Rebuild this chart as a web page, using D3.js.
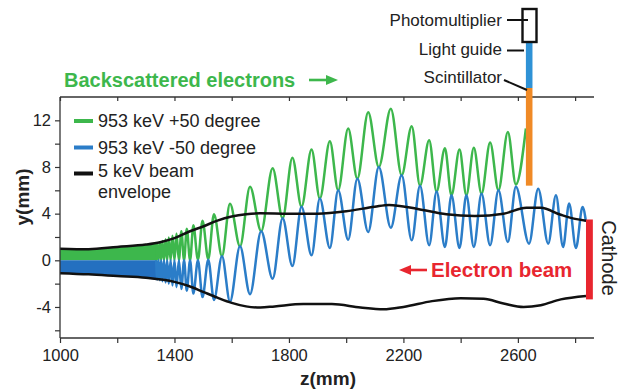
<!DOCTYPE html>
<html><head><meta charset="utf-8">
<script src="https://cdn.jsdelivr.net/npm/d3@7"></script>
<style>body{margin:0;background:#fff}svg{display:block}</style>
</head><body><svg id="c" width="622" height="391"></svg>
<script>
// ---------- data ----------
const xTicks = [1000,1200,1400,1600,1800,2000,2200,2400,2600,2800];
const xLabels = [1000,1400,1800,2200,2600];
const yTicks = [-6,-4,-2,0,2,4,6,8,10,12];
const yLabels = [-4,0,4,8,12];
const seriesNames = ["953 keV +50 degree","953 keV -50 degree","5 keV beam","envelope"];

// dense (unresolved) oscillation band at the start
const bandZ = [1000,1100,1200,1300,1340];
const greenBandTop = [1.0,0.95,1.15,1.35,1.45];
const greenBandBottom = [0,0,0,0,0];
const blueBandTop = [0,0,0,0,0];
const blueBandBottom = [-1.1,-1.2,-1.35,-1.5,-1.65];

// resolved oscillation extremes (peaks and troughs)
const greenZ = [1336,1340,1344.5,1349,1353.5,1358,1363.5,1369,1374.5,1380,1386.5,1393,1400,1407,1415.5,1424,1433.5,1443,1454.5,1466,1482,1498,1518,1538,1566,1594,1629,1664,1703,1743,1778,1812,1844,1879,1908,1943,1972,2007,2039,2077,2114,2156,2194,2229,2258,2290,2316,2345,2368,2396,2420,2446,2473,2503,2532,2565,2593,2628];
const greenY = [0,1.45,0,1.55,0,1.65,0,1.8,0,1.95,0,2.1,0,2.3,0,2.5,0,2.7,0,3.0,0.05,3.4,0.1,3.95,0.35,4.85,1.2,6.3,2.5,7.9,3.6,8.8,4.6,9.5,5.3,10.2,6.0,11.3,7.0,12.7,8.0,13.0,7.3,11.5,6.4,10.3,5.9,9.6,5.57,9.5,5.57,9.65,5.7,10.1,6.0,11.0,6.5,11.3];
const blueZ = [1336,1340,1344.5,1349,1353.5,1358,1363.5,1369,1374.5,1380,1386.5,1393,1400,1407,1415.5,1424,1433.5,1443,1454.5,1466,1482,1498,1518,1538,1566,1594,1629,1664,1703,1743,1778,1812,1844,1879,1908,1943,1972,2007,2039,2077,2114,2156,2194,2229,2258,2290,2316,2345,2368,2396,2420,2446,2473,2503,2532,2565,2593,2639,2671,2706,2733,2758,2779,2803,2826,2838];
const blueY = [0,-1.65,0,-1.7,0,-1.8,0,-1.9,0,-2.0,0,-2.15,0,-2.3,0,-2.45,0,-2.6,0,-2.85,0,-3.15,0.05,-3.4,0.35,-3.55,1.2,-2.9,2.5,-1.57,3.6,-0.49,4.6,0.43,5.3,1.06,6.0,1.77,7.0,2.43,8.0,2.8,7.3,1.71,6.4,1.29,5.9,1.14,5.57,1.06,5.57,1.14,5.7,1.29,6.0,1.57,6.3,1.43,6.14,1.43,5.57,1.14,4.86,1.06,4.57,3.3];

// 5 keV beam envelope
const envUpperZ = [1000,1100,1200,1300,1350,1400,1450,1500,1550,1600,1650,1700,1800,1900,2000,2100,2150,2250,2350,2450,2550,2630,2680,2750,2800,2838];
const envUpperY = [1.0,0.95,1.15,1.35,1.55,1.9,2.45,2.9,3.4,3.75,3.95,4.03,4.0,4.0,4.2,4.6,4.75,4.4,3.95,3.8,4.0,4.5,4.5,3.9,3.55,3.4];
const envLowerZ = [1000,1100,1200,1300,1400,1450,1500,1550,1600,1650,1700,1750,1850,1950,2050,2130,2200,2300,2400,2480,2550,2620,2680,2750,2838];
const envLowerY = [-1.1,-1.2,-1.35,-1.5,-1.85,-2.2,-2.7,-3.2,-3.65,-3.95,-4.05,-3.95,-3.75,-3.75,-4.05,-4.2,-4.0,-3.5,-3.25,-3.3,-3.7,-4.0,-3.85,-3.35,-3.05];

// detector / cathode positions (data units)
const cathodeZ = [2838,2862];
const cathodeY = [3.5,-3.35];
const scintZ = [2628,2651];
const scintYBottom = 6.4;

// ---------- drawing ----------
const GREEN="#3db74c", BLUE="#2b7dc8", RED="#e8262f", ORANGE="#f08a26", INK="#222";
const FONT="'Liberation Sans', Arial, sans-serif";
const svg = d3.select("#c");
const x = d3.scaleLinear().domain([1000,2866]).range([60,594]);
const y = d3.scaleLinear().domain([-6.66,14]).range([338,97]);

const zip = (a,b)=>a.map((v,i)=>[v,b[i]]);

// bands
const band = d3.area().x(d=>x(d[0])).y0(d=>y(d[1])).y1(d=>y(d[2])).curve(d3.curveMonotoneX);
svg.append("path").datum(bandZ.map((z,i)=>[z,greenBandBottom[i],greenBandTop[i]]))
  .attr("d",band).attr("fill",GREEN);
svg.append("path").datum(bandZ.map((z,i)=>[z,blueBandBottom[i],blueBandTop[i]]))
  .attr("d",band).attr("fill","#2470c0");

const line = d3.line().x(d=>x(d[0])).y(d=>y(d[1])).curve(d3.curveMonotoneX);
svg.append("path").datum(zip(greenZ,greenY)).attr("d",line)
  .attr("fill","none").attr("stroke",GREEN).attr("stroke-width",2.5);
svg.append("path").datum(zip(blueZ,blueY)).attr("d",line)
  .attr("fill","none").attr("stroke",BLUE).attr("stroke-width",2.5);
svg.append("path").datum(zip(envUpperZ,envUpperY)).attr("d",line)
  .attr("fill","none").attr("stroke","#111").attr("stroke-width",2.5);
svg.append("path").datum(zip(envLowerZ,envLowerY)).attr("d",line)
  .attr("fill","none").attr("stroke","#111").attr("stroke-width",2.5);

// axes
const axB = d3.axisBottom(x).tickValues(xTicks).tickSize(5).tickPadding(6)
  .tickFormat(d=>xLabels.includes(d)?d:"");
const gB = svg.append("g").attr("transform",`translate(0,${y(-6.66)})`).call(axB);
const axL = d3.axisLeft(y).tickValues(yTicks).tickSize(5).tickPadding(4)
  .tickFormat(d=>yLabels.includes(d)?d:"");
const gL = svg.append("g").attr("transform",`translate(${x(1000)},0)`).call(axL);
const axT = d3.axisTop(x).tickValues(xTicks).tickSize(-4).tickFormat("");
const gT = svg.append("g").attr("transform",`translate(0,${y(14)})`).call(axT);
[gB,gL,gT].forEach(g=>{
  g.select(".domain").attr("stroke","#333").attr("stroke-width",1.3);
  g.selectAll(".tick line").attr("stroke","#333").attr("stroke-width",1.2);
  g.selectAll("text").attr("fill",INK).attr("font-family",FONT).attr("font-size",16.5);
});
gT.select(".domain").attr("d",`M${x(1000)},0H${x(2866)}`);
gB.select(".domain").attr("d",`M${x(1000)},0H${x(2866)}`);
gL.select(".domain").attr("d",`M0,${y(-6.66)}V${y(14)}`);

// axis titles
svg.append("text").attr("x",328).attr("y",385).attr("text-anchor","middle")
  .attr("font-family",FONT).attr("font-weight","bold").attr("font-size",19).attr("fill",INK).text("z(mm)");
svg.append("text").attr("transform","translate(29,197) rotate(-90)").attr("text-anchor","middle")
  .attr("font-family",FONT).attr("font-weight","bold").attr("font-size",19).attr("fill",INK).text("y(mm)");

// legend
const legColors=[GREEN,BLUE,"#111"];
const legY=[121,147.5,173.5];
legColors.forEach((c,i)=>{
  svg.append("line").attr("x1",74).attr("x2",93).attr("y1",legY[i]).attr("y2",legY[i])
    .attr("stroke",c).attr("stroke-width",4);
});
const legBase=[127,153.5,177.3,197.6];
seriesNames.forEach((s,i)=>{
  svg.append("text").attr("x",98).attr("y",legBase[i]).attr("font-family",FONT).attr("font-size",18)
    .attr("fill",INK).text(s);
});

// backscattered label
svg.append("text").attr("x",64).attr("y",87).attr("font-family",FONT).attr("font-weight","bold")
  .attr("font-size",20).attr("fill",GREEN).text("Backscattered electrons");
svg.append("line").attr("x1",309).attr("x2",328).attr("y1",80).attr("y2",80).attr("stroke",GREEN).attr("stroke-width",2.6);
svg.append("path").attr("d","M338,80L326,75L326,85Z").attr("fill",GREEN);

// electron beam label
svg.append("text").attr("x",431).attr("y",277).attr("font-family",FONT).attr("font-weight","bold")
  .attr("font-size",20.5).attr("fill",RED).text("Electron beam");
svg.append("line").attr("x1",409).attr("x2",427).attr("y1",270).attr("y2",270).attr("stroke",RED).attr("stroke-width",2.6);
svg.append("path").attr("d","M399,270L411,265L411,275Z").attr("fill",RED);

// cathode
svg.append("rect").attr("x",x(cathodeZ[0])).attr("y",y(cathodeY[0]))
  .attr("width",x(cathodeZ[1])-x(cathodeZ[0])).attr("height",y(cathodeY[1])-y(cathodeY[0])).attr("fill",RED);
svg.append("text").attr("transform","translate(602,258) rotate(90)").attr("text-anchor","middle")
  .attr("font-family",FONT).attr("font-size",20).attr("fill",INK).text("Cathode");

// detector stack
const sx0 = x(scintZ[0]), sx1 = x(scintZ[1]);
svg.append("rect").attr("x",sx0).attr("y",88).attr("width",sx1-sx0).attr("height",y(scintYBottom)-88).attr("fill",ORANGE);
svg.append("rect").attr("x",sx0).attr("y",42).attr("width",sx1-sx0).attr("height",46).attr("fill","#2f92d6");
svg.append("rect").attr("x",522.5).attr("y",9).attr("width",14).attr("height",33)
  .attr("fill","#fff").attr("stroke","#111").attr("stroke-width",2.4);
const ann = [["Photomultiplier",20],["Light guide",49],["Scintillator",77]];
ann.forEach(a=>{
  svg.append("text").attr("x",502).attr("y",a[1]+6).attr("text-anchor","end")
    .attr("font-family",FONT).attr("font-size",17).attr("fill",INK).text(a[0]);
});
svg.append("line").attr("x1",507).attr("x2",528).attr("y1",20).attr("y2",20).attr("stroke","#111").attr("stroke-width",2);
svg.append("line").attr("x1",507).attr("x2",524).attr("y1",50.5).attr("y2",50.5).attr("stroke","#111").attr("stroke-width",2);
svg.append("line").attr("x1",504).attr("x2",527).attr("y1",80).attr("y2",90).attr("stroke","#111").attr("stroke-width",2);
</script></body></html>
